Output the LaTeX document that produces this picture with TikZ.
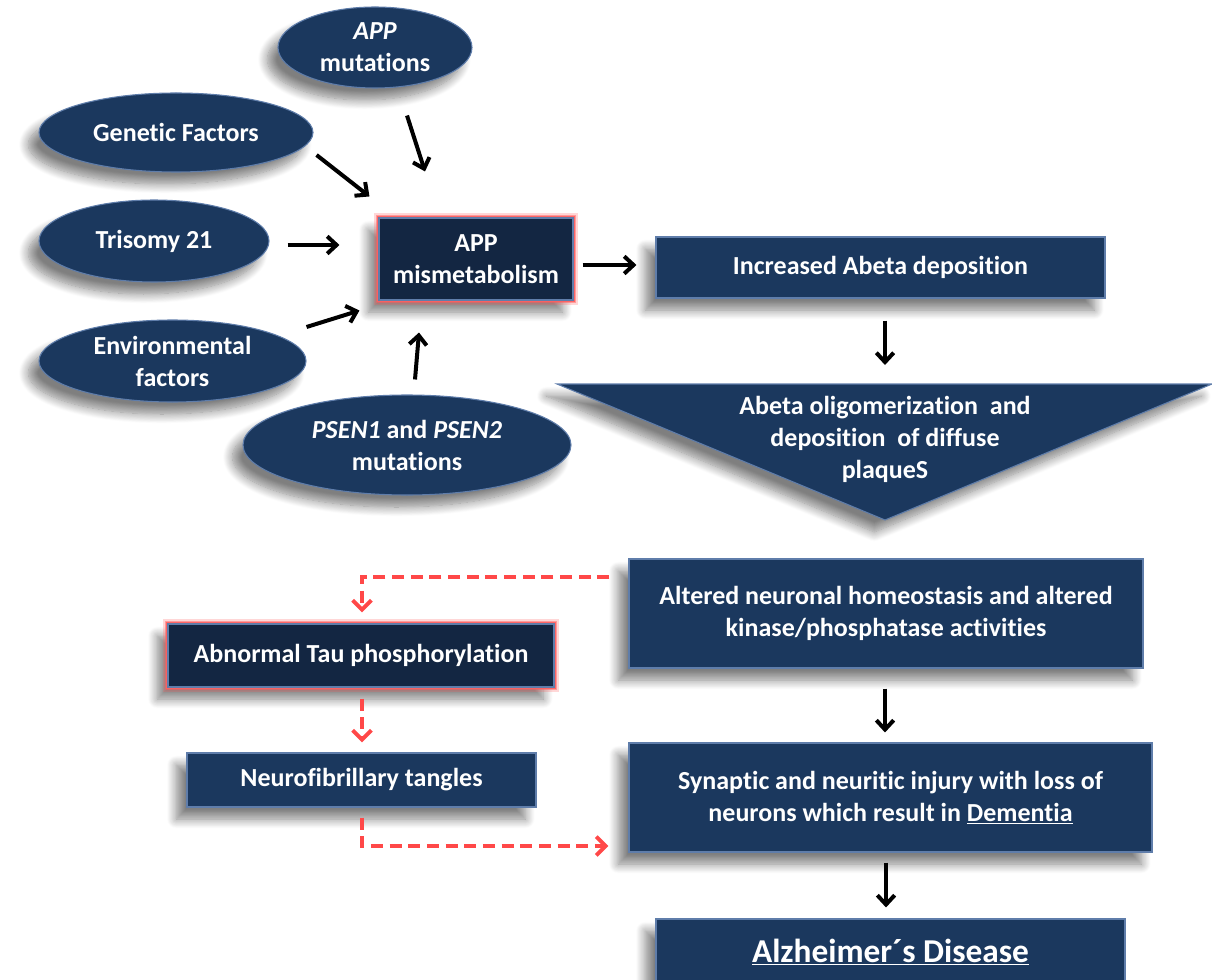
\documentclass[tikz,border=0pt]{standalone}
\usepackage{fontspec}
\setmainfont{Carlito}[Ligatures={NoCommon}]
\usetikzlibrary{arrows.meta,shapes.geometric,shadows.blur}
\definecolor{boxblue}{RGB}{27,56,94}
\definecolor{darkblue}{RGB}{19,38,66}
\definecolor{bevel}{RGB}{95,125,170}
\definecolor{glow}{RGB}{255,95,95}
\definecolor{dashred}{RGB}{255,72,72}
\tikzset{
  base/.style={fill=boxblue, draw=bevel, line width=0.8pt, text=white,
    font=\fontsize{19.5}{24}\selectfont\bfseries, align=center, inner sep=0pt,
    blur shadow={shadow xshift=-8pt, shadow yshift=-9pt, shadow blur steps=12, shadow opacity=50, shadow blur radius=7pt}},
  oval/.style={base, ellipse},
  rbox/.style={base, rectangle},
  glowbox/.style={rbox, fill=darkblue,
    preaction={draw=glow, line width=8pt, opacity=0.25},
    preaction={draw=glow, line width=5pt, opacity=0.5},
    preaction={draw=glow, line width=2.5pt, opacity=0.9}},
  arr/.style={-{Straight Barb[length=7pt,width=13pt]}, line width=3pt, black},
  darr/.style={-{Straight Barb[length=7pt,width=14pt]}, line width=3pt, dashred, dash pattern=on 9pt off 5pt},
}
\begin{document}
\begin{tikzpicture}[x=0.75pt,y=-0.75pt]
\useasboundingbox (0,0) rectangle (1212,980);
\clip (0,0) rectangle (1212,980);

% ovals
\node[oval, minimum width=145.5pt, minimum height=60.75pt] (appmut) at (375,47.5) {\textit{APP}\\mutations};
\node[oval, minimum width=205.5pt, minimum height=59.25pt] (gen) at (176,132.5) {Genetic Factors};
\node[oval, minimum width=172.5pt, minimum height=61.5pt] (tri) at (154,241) {Trisomy 21};
\node[oval, minimum width=200.25pt, minimum height=61.5pt] (env) at (172.5,361) {Environmental\\factors};
\node[oval, minimum width=246pt, minimum height=75pt] (psen) at (407,445) {\textit{PSEN1} and \textit{PSEN2}\\mutations};

% boxes
\node[glowbox, minimum width=145.5pt, minimum height=61.5pt] (app) at (476,259) {APP\\mismetabolism};
\node[rbox, minimum width=336.75pt, minimum height=45.75pt] (inc) at (880.5,267.5) {Increased Abeta deposition};

% triangle
\path[fill=boxblue, draw=bevel, line width=0.8pt,
  blur shadow={shadow xshift=-8pt, shadow yshift=-9pt, shadow blur steps=12, shadow opacity=50, shadow blur radius=7pt}]
  (557,384) -- (1212,384) -- (885,520) -- cycle;
\coordinate (tritop) at (885,384);
\node[text=white, font=\fontsize{19.5}{24}\selectfont\bfseries, align=center] (oligo) at (885,439)
  {Abeta oligomerization\ \ and\\deposition\ \ of diffuse\\plaqueS};

\node[rbox, minimum width=385.5pt, minimum height=81.75pt] (alt) at (886,613.5)
  {Altered neuronal homeostasis and altered\\kinase/phosphatase activities};
\node[glowbox, minimum width=289.5pt, minimum height=47.25pt] (tau) at (361,655.5) {Abnormal Tau phosphorylation};
\node[rbox, minimum width=261.75pt, minimum height=40.5pt] (nft) at (361.5,780) {Neurofibrillary tangles};
\node[rbox, minimum width=392.25pt, minimum height=81.75pt] (syn) at (890.5,797.5)
  {Synaptic and neuritic injury with loss of\\neurons which result in \underline{Dementia}};
\node[rbox, minimum width=351.75pt, minimum height=68.25pt] (ad) at (890.5,964.5) {};
\node[text=white, font=\fontsize{25}{30}\selectfont\bfseries, inner sep=0pt] (adtext) at (890.5,952) {\underline{Alzheimer´s Disease}};

% black arrows
\draw[arr] ([shift={(32,27)}]appmut.south) -- ([shift={(-51,-46)}]app.north);
\draw[arr] ([shift={(3,22.5)}]gen.east) -- ([shift={(-9,-21)}]app.north west);
\draw[arr] ([shift={(18,4)}]tri.east) -- ([shift={(-39,-14)}]app.west);
\draw[arr] ([shift={(0,-34)}]env.east) -- ([shift={(-19,10)}]app.south west);
\draw[arr] ([shift={(8,-15)}]psen.north) -- ([shift={(-57,32)}]app.south);
\draw[arr] ([shift={(9,6)}]app.east) -- ([shift={(-19,-2.5)}]inc.west);
\draw[arr] ([shift={(4.5,22)}]inc.south) -- ([shift={(0,-19)}]tritop);
\draw[arr] ([shift={(-1,20)}]alt.south) -- ([shift={(-5.5,-10)}]syn.north);
\draw[arr] ([shift={(-4.5,10)}]syn.south) -- ([shift={(-4.5,-11)}]ad.north);

% red dashed arrows
\draw[darr] ([shift={(-19,-36.5)}]alt.west) -| ([shift={(1,-11)}]tau.north);
\draw[darr] ([shift={(1,11)}]tau.south) -- ([shift={(0.5,-10)}]nft.north);
\draw[darr] ([shift={(0.5,10)}]nft.south) |- ([shift={(-20,48.5)}]syn.west);
\end{tikzpicture}
\end{document}
